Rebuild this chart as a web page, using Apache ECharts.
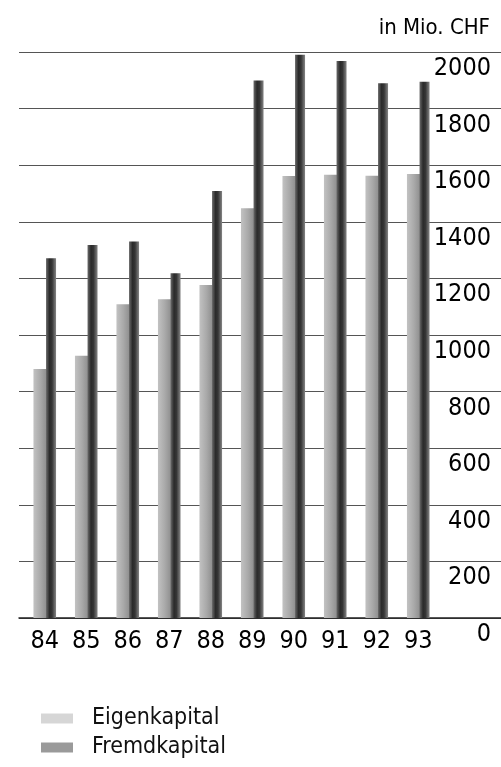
<!DOCTYPE html>
<html>
<head>
<meta charset="utf-8">
<script src="https://cdn.jsdelivr.net/npm/echarts@6/dist/echarts.min.js"></script>
<style>
html,body{margin:0;padding:0;background:#fff;}
#c{width:501px;height:767px;}
</style>
</head>
<body>
<div id="c"></div>
<script>
var years = ['84','85','86','87','88','89','90','91','92','93'];
var eigenkapital = [880, 927, 1109, 1126, 1177, 1448, 1562, 1566, 1563, 1569];
var fremdkapital = [1271, 1318, 1330, 1218, 1509, 1899, 1990, 1968, 1890, 1895];
var yMin = 0, yMax = 2000, yStep = 200;
var unitLabel = 'in Mio. CHF';
var seriesNames = ['Eigenkapital', 'Fremdkapital'];

var FONT = '"DejaVu Sans Condensed", "Liberation Sans Narrow", "Liberation Sans", sans-serif';
var chart = echarts.init(document.getElementById('c'), null, {renderer: 'canvas'});

function hGrad(stops) {
  return new echarts.graphic.LinearGradient(0, 0, 1, 0, stops);
}

var legendText = {fontFamily: FONT, fontSize: 23, color: '#111', padding: [0, 0, 0, 14]};

chart.setOption({
  animation: false,
  backgroundColor: '#ffffff',
  title: {
    text: unitLabel,
    right: 6, top: 12,
    textStyle: {fontFamily: FONT, fontSize: 22, fontWeight: 'normal', color: '#000'}
  },
  legend: [
    {
      left: 36, top: 702, itemWidth: 32, itemHeight: 10,
      textStyle: legendText,
      data: [{name: seriesNames[0], icon: 'rect', itemStyle: {color: '#d6d6d6'}}]
    },
    {
      left: 36, top: 731, itemWidth: 32, itemHeight: 10,
      textStyle: legendText,
      data: [{name: seriesNames[1], icon: 'rect', itemStyle: {color: '#9a9a9a'}}]
    }
  ],
  grid: [
    {left: 24, right: 62, top: 52, bottom: 149},
    {left: 19, right: 0, top: 52, bottom: 149}
  ],
  xAxis: [
    {
      type: 'category', gridIndex: 0, data: years,
      axisLine: {show: false}, axisTick: {show: false}, splitLine: {show: false},
      axisLabel: {fontFamily: FONT, fontSize: 25, color: '#000', margin: 11}
    },
    {
      type: 'value', gridIndex: 1, min: 0, max: 1,
      axisLine: {show: true, lineStyle: {color: '#222', width: 1.5}},
      axisTick: {show: false}, axisLabel: {show: false}, splitLine: {show: false}
    }
  ],
  yAxis: [
    {
      type: 'value', gridIndex: 0, min: yMin, max: yMax, interval: yStep,
      show: false, splitLine: {show: false}
    },
    {
      type: 'value', gridIndex: 1, position: 'right', min: yMin, max: yMax, interval: yStep,
      axisLine: {show: false}, axisTick: {show: false},
      splitLine: {show: true, lineStyle: {color: '#555', width: 1}},
      axisLabel: {
        inside: true, margin: 10, fontFamily: FONT, fontSize: 25, color: '#000',
        verticalAlign: 'top', padding: [4, 0, 0, 0],
        formatter: function (v) { return String(v); }
      },
      z: 0
    }
  ],
  series: [
    {
      name: seriesNames[0], type: 'bar', xAxisIndex: 0, yAxisIndex: 0,
      data: eigenkapital, barWidth: 14, barGap: '-10%',
      itemStyle: {color: hGrad([
        {offset: 0, color: '#c2c2c2'}, {offset: 0.5, color: '#a9a9a9'}, {offset: 1, color: '#8a8a8a'}
      ])},
      z: 3
    },
    {
      name: seriesNames[1], type: 'bar', xAxisIndex: 0, yAxisIndex: 0,
      data: fremdkapital, barWidth: 10,
      itemStyle: {color: hGrad([
        {offset: 0, color: '#6a6a6a'}, {offset: 0.35, color: '#2a2a2a'}, {offset: 0.6, color: '#363636'}, {offset: 1, color: '#858585'}
      ])},
      z: 4
    }
  ]
});
</script>
</body>
</html>
